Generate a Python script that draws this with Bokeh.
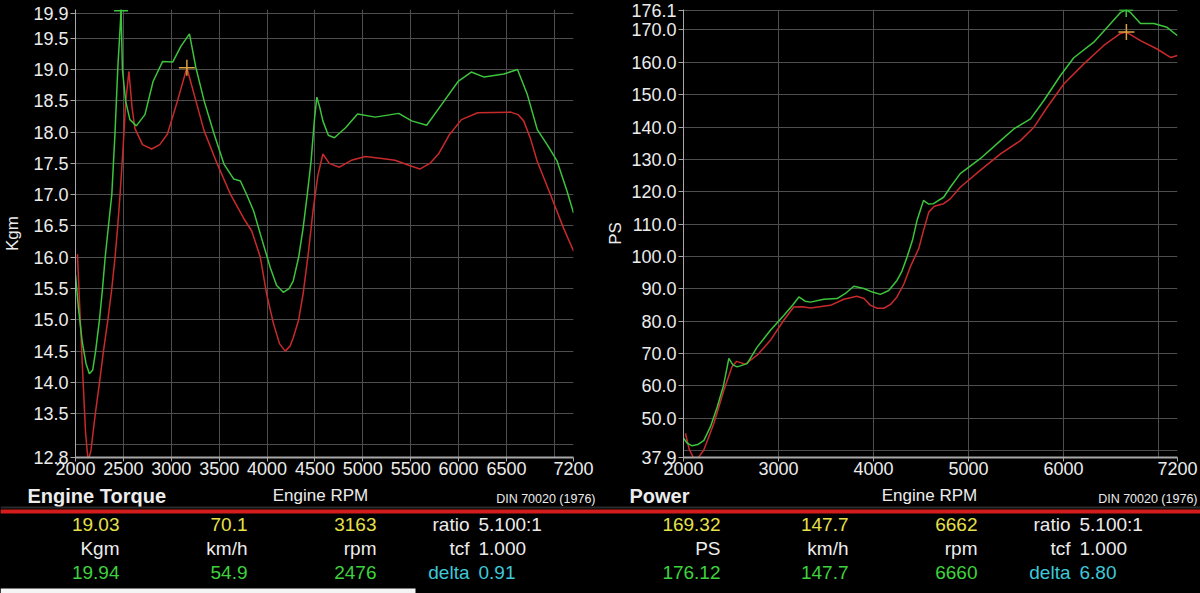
from bokeh.plotting import figure
from bokeh.layouts import column, row
from bokeh.models import FixedTicker, Span, BoxAnnotation, PrintfTickFormatter
from bokeh.core.properties import value
from bokeh.embed import file_html
from bokeh.resources import INLINE

# ---------------- data ----------------
torque_run1_rpm = [2020, 2050, 2080, 2105, 2131, 2160, 2207, 2251, 2292, 2338, 2379, 2413, 2441, 2465,
                   2495, 2525, 2558, 2590, 2620, 2700, 2795, 2880, 2960, 3065, 3163, 3257, 3343, 3478,
                   3620, 3757, 3840, 3930, 3995, 4067, 4130, 4190, 4240, 4273, 4330, 4377, 4430, 4480,
                   4530, 4583, 4650, 4755, 4880, 5027, 5200, 5337, 5480, 5595, 5700, 5790, 5900, 6030,
                   6200, 6545, 6620, 6680, 6750, 6820, 6960, 7095, 7200]
torque_run1 = [16.05, 15.0, 14.0, 13.2, 12.75, 12.9, 13.5, 14.0, 14.5, 15.0, 15.5, 16.0, 16.5, 17.0,
               17.7, 18.5, 18.97, 18.4, 18.06, 17.8, 17.73, 17.8, 17.97, 18.5, 19.03, 18.5, 18.02, 17.5,
               17.0, 16.62, 16.42, 16.0, 15.42, 14.94, 14.62, 14.5, 14.58, 14.71, 15.0, 15.42, 16.05, 16.74,
               17.3, 17.65, 17.5, 17.44, 17.55, 17.61, 17.58, 17.55, 17.47, 17.41, 17.5, 17.65, 17.95, 18.2,
               18.31, 18.32, 18.28, 18.18, 17.9, 17.54, 17.0, 16.47, 16.1]

torque_run2_rpm = [2000, 2030, 2070, 2110, 2145, 2180, 2210, 2250, 2282, 2310, 2344, 2379, 2413, 2441,
                   2476, 2490, 2523, 2568, 2635, 2725, 2810, 2910, 3015, 3100, 3190, 3257, 3343, 3447,
                   3550, 3653, 3722, 3788, 3860, 3930, 4035, 4100, 4170, 4230, 4273, 4330, 4377, 4420,
                   4460, 4495, 4520, 4550, 4583, 4640, 4703, 4820, 4945, 5130, 5375, 5510, 5667, 5822,
                   5995, 6133, 6267, 6473, 6615, 6718, 6822, 6925, 7028, 7132, 7200]
torque_run2 = [15.72, 15.2, 14.65, 14.3, 14.14, 14.2, 14.5, 15.0, 15.5, 16.0, 16.5, 17.0, 18.0, 19.0,
               19.94, 19.0, 18.5, 18.2, 18.1, 18.28, 18.81, 19.13, 19.12, 19.37, 19.57, 19.03, 18.5, 17.97,
               17.49, 17.25, 17.22, 17.0, 16.74, 16.37, 15.83, 15.55, 15.44, 15.5, 15.62, 16.0, 16.47, 17.0,
               17.54, 18.2, 18.56, 18.4, 18.18, 17.95, 17.91, 18.07, 18.29, 18.24, 18.3, 18.18, 18.11, 18.44,
               18.81, 18.96, 18.88, 18.93, 19.0, 18.6, 18.04, 17.8, 17.54, 17.06, 16.71]

power_run1_rpm = [2020, 2060, 2110, 2160, 2215, 2320, 2425, 2510, 2560, 2600, 2650, 2775, 2915, 3055,
                  3160, 3250, 3337, 3547, 3687, 3825, 3900, 3968, 4040, 4108, 4180, 4247, 4320, 4386,
                  4477, 4526, 4582, 4640, 4738, 4808, 4913, 5123, 5337, 5547, 5688, 5828, 6003, 6214,
                  6424, 6600, 6662, 6810, 6985, 7126, 7200]
power_run1 = [45.4, 40.5, 37.5, 38.0, 40.3, 48.5, 58.7, 65.9, 67.6, 67.2, 66.7, 69.5, 74.1, 80.3,
              84.4, 84.5, 84.1, 84.9, 86.8, 87.7, 87.0, 84.9, 84.0, 84.0, 85.2, 87.5, 91.5, 96.7,
              102.5, 108.0, 113.7, 115.5, 116.3, 117.8, 121.4, 126.6, 131.7, 135.8, 139.9, 146.1, 153.3, 159.5,
              165.2, 168.9, 169.32, 166.7, 164.1, 161.5, 162.1]

power_run2_rpm = [2000, 2040, 2090, 2150, 2215, 2285, 2355, 2420, 2460, 2477, 2520, 2565, 2670, 2775,
                  2915, 3055, 3150, 3215, 3280, 3337, 3477, 3617, 3700, 3793, 3898, 3990, 4073, 4160,
                  4247, 4300, 4353, 4410, 4458, 4526, 4580, 4631, 4738, 4808, 4913, 5123, 5337, 5477,
                  5653, 5793, 5968, 6108, 6319, 6494, 6600, 6660, 6705, 6810, 6950, 7090, 7200]
power_run2 = [43.9, 42.3, 41.5, 41.9, 43.2, 47.5, 53.5, 60.0, 65.9, 68.5, 66.5, 65.9, 66.9, 72.0,
              77.2, 81.8, 85.0, 87.5, 86.2, 85.9, 86.8, 87.0, 88.5, 90.8, 90.1, 89.0, 88.3, 89.5,
              92.6, 95.5, 99.8, 105.0, 111.1, 117.3, 116.2, 116.3, 118.3, 121.4, 125.6, 130.2, 135.8, 139.4,
              142.5, 148.2, 155.9, 161.4, 166.2, 171.9, 175.4, 176.12, 175.4, 172.0, 172.0, 170.8, 168.2]

torque_cursor_rpm = [3163]
torque_cursor = [19.03]
torque_peak_rpm = [2476]
torque_peak = [19.94]
power_cursor_rpm = [6662]
power_cursor = [169.32]
power_peak_rpm = [6660]
power_peak = [176.12]

torque_ticks = [12.8, 13.5, 14.0, 14.5, 15.0, 15.5, 16.0, 16.5, 17.0, 17.5, 18.0, 18.5, 19.0, 19.5, 19.9]
torque_grid = [12.8, 13.0, 13.5, 14.0, 14.5, 15.0, 15.5, 16.0, 16.5, 17.0, 17.5, 18.0, 18.5, 19.0, 19.5, 19.9]
power_ticks = [37.9, 50.0, 60.0, 70.0, 80.0, 90.0, 100.0, 110.0, 120.0, 130.0, 140.0, 150.0, 160.0, 170.0, 176.1]
power_grid = [37.9, 40.0, 50.0, 60.0, 70.0, 80.0, 90.0, 100.0, 110.0, 120.0, 130.0, 140.0, 150.0, 160.0, 170.0, 176.1]
torque_rpm_ticks = [2000, 2500, 3000, 3500, 4000, 4500, 5000, 5500, 6000, 6500, 7200]
torque_rpm_grid = [2000, 2500, 3000, 3500, 4000, 4500, 5000, 5500, 6000, 6500, 7000, 7200]
power_rpm_ticks = [2000, 3000, 4000, 5000, 6000, 7200]
power_rpm_grid = [2000, 3000, 4000, 5000, 6000, 7000, 7200]

chart_titles = ["Engine Torque", "Power"]
x_title = "Engine RPM"
standard = "DIN 70020 (1976)"
torque_cursor_vals = ["19.03", "70.1", "3163"]
torque_units = ["Kgm", "km/h", "rpm"]
torque_peak_vals = ["19.94", "54.9", "2476"]
power_cursor_vals = ["169.32", "147.7", "6662"]
power_units = ["PS", "km/h", "rpm"]
power_peak_vals = ["176.12", "147.7", "6660"]
setting_names = ["ratio", "tcf", "delta"]
torque_settings = ["5.100:1", "1.000", "0.91"]
power_settings = ["5.100:1", "1.000", "6.80"]

# ---------------- style ----------------
FONT = "Liberation Sans"
RED = "#c82a2c"
GREEN = "#3cc43c"
CURSOR = "#d9a23c"
GRID = "#4e4e4e"
AXIS = "#a8a8a8"
TXT = "#ececec"
YELLOW = "#e6e04a"
LGREEN = "#3ed23e"
CYAN = "#3ec8d8"

W, H_CHART, H_PANEL = 600, 483, 110


def make_chart(y_range, ylabel, xticks, xgrid, yticks, ygrid, mb_left, mb_right, mb_top, mb_bottom, y_std):
    p = figure(width=W, height=H_CHART, x_range=(2000, 7200), y_range=y_range,
               output_backend="svg", toolbar_location=None,
               background_fill_color="black", border_fill_color="black",
               outline_line_color=None,
               min_border_left=mb_left, min_border_right=mb_right,
               min_border_top=mb_top, min_border_bottom=mb_bottom)
    p.xaxis.ticker = FixedTicker(ticks=xticks)
    p.yaxis.ticker = FixedTicker(ticks=yticks)
    p.yaxis.formatter = PrintfTickFormatter(format="%.1f")
    p.xgrid.ticker = FixedTicker(ticks=xgrid)
    p.ygrid.ticker = FixedTicker(ticks=ygrid)
    p.grid.grid_line_color = GRID
    p.grid.grid_line_width = 1
    for ax in (p.xaxis, p.yaxis):
        ax.axis_line_color = AXIS
        ax.major_tick_line_color = AXIS
        ax.minor_tick_line_color = None
        ax.major_tick_in = 0
        ax.major_label_text_color = TXT
        ax.major_label_text_font = FONT
        ax.major_label_text_font_size = "18px"
        ax.axis_label_text_color = TXT
        ax.axis_label_text_font = FONT
        ax.axis_label_text_font_style = "normal"
        ax.axis_label_text_font_size = "17px"
    p.xaxis.axis_line_width = 2
    p.xaxis.major_tick_out = 4
    p.xaxis.major_label_standoff = 0
    p.yaxis.major_tick_out = 5
    p.yaxis.major_label_standoff = 2
    p.yaxis.axis_label = ylabel
    p.yaxis.axis_label_standoff = y_std
    return p


# ---------------- torque chart ----------------
p1 = make_chart((12.8, 19.96), "Kgm", torque_rpm_ticks, torque_rpm_grid, torque_ticks, torque_grid,
                70, 27, 8, 26, 8)
p1.line(torque_run1_rpm, torque_run1, line_color=RED, line_width=1.5)
p1.line(torque_run2_rpm, torque_run2, line_color=GREEN, line_width=1.5)
p1.scatter(torque_peak_rpm, torque_peak, marker="cross", size=14, line_color=GREEN, line_width=1.5)
p1.scatter(torque_cursor_rpm, torque_cursor, marker="cross", size=16, line_color=CURSOR, line_width=1.5)

# ---------------- power chart ----------------
p2 = make_chart((37.9, 176.3), "PS", power_rpm_ticks, power_rpm_grid, power_ticks, power_grid,
                83, 23, 9, 25, 3)
p2.line(power_run1_rpm, power_run1, line_color=RED, line_width=1.5)
p2.line(power_run2_rpm, power_run2, line_color=GREEN, line_width=1.5)
p2.scatter(power_peak_rpm, power_peak, marker="cross", size=14, line_color=GREEN, line_width=1.5)
p2.scatter(power_cursor_rpm, power_cursor, marker="cross", size=16, line_color=CURSOR, line_width=1.5)

# ---------------- caption + read-out panel ----------------
p3 = figure(width=2 * W, height=H_PANEL, x_range=(0, 1200), y_range=(593, 483),
            output_backend="svg", toolbar_location=None, x_axis_type=None, y_axis_type=None,
            background_fill_color="black", border_fill_color="black", outline_line_color=None,
            min_border_left=0, min_border_right=0, min_border_top=0, min_border_bottom=0)
p3.grid.visible = False
p3.add_layout(Span(location=507, dimension="width", line_color="#2a2a2a", line_width=2))
p3.add_layout(Span(location=511, dimension="width", line_color="#d41c1c", line_width=4))
p3.add_layout(BoxAnnotation(left=0, right=415, top=588, bottom=593, fill_color="#f4f4f4",
                            fill_alpha=1, line_color=None))

title_left = [27, 629]
xtitle_center = [320, 929]
standard_right = [595, 1197]
caption_y = 495
col_right = [119, 247, 376]
name_right = 469
val_left = 478
row_y = [524, 548, 572]
half_offset = [0, 601]

p3.text(title_left, [caption_y] * 2, text=chart_titles, text_color=TXT, text_align="left",
        text_baseline="middle", text_font=value(FONT), text_font_size="20px", text_font_style="bold")
p3.text(xtitle_center, [caption_y] * 2, text=[x_title] * 2, text_color=TXT, text_align="center",
        text_baseline="middle", text_font=value(FONT), text_font_size="17px")
p3.text(standard_right, [caption_y + 3] * 2, text=[standard] * 2, text_color=TXT, text_align="right",
        text_baseline="middle", text_font=value(FONT), text_font_size="12.5px")

txt_kw = dict(text_font=value(FONT), text_font_size="19px", text_baseline="middle")
for off, cur, units, peak, sets in ((half_offset[0], torque_cursor_vals, torque_units, torque_peak_vals, torque_settings),
                                    (half_offset[1], power_cursor_vals, power_units, power_peak_vals, power_settings)):
    xs = [c + off for c in col_right]
    p3.text(xs, [row_y[0]] * 3, text=cur, text_color=YELLOW, text_align="right", **txt_kw)
    p3.text(xs, [row_y[1]] * 3, text=units, text_color=TXT, text_align="right", **txt_kw)
    p3.text(xs, [row_y[2]] * 3, text=peak, text_color=LGREEN, text_align="right", **txt_kw)
    p3.text([name_right + off] * 2, row_y[:2], text=setting_names[:2], text_color=TXT,
            text_align="right", **txt_kw)
    p3.text([name_right + off], row_y[2:], text=setting_names[2:], text_color=CYAN,
            text_align="right", **txt_kw)
    p3.text([val_left + off] * 2, row_y[:2], text=sets[:2], text_color=TXT, text_align="left", **txt_kw)
    p3.text([val_left + off], row_y[2:], text=sets[2:], text_color=CYAN, text_align="left", **txt_kw)

charts = row(p1, p2, styles={"background-color": "black"})
layout = column(charts, p3, styles={"background-color": "black"})
open("out.html", "w").write(file_html(layout, INLINE))
